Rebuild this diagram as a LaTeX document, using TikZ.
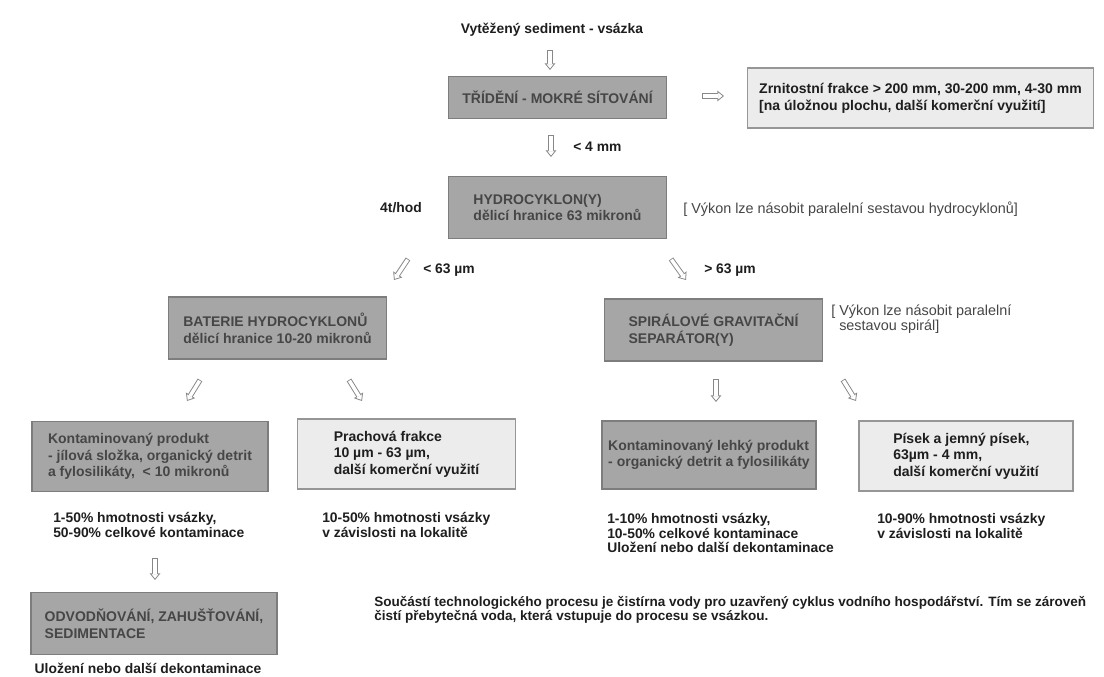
\documentclass[tikz,border=0pt]{standalone}
\usepackage{fontspec}
\setmainfont{Liberation Sans}
\usetikzlibrary{arrows.meta}
\definecolor{boxgray}{RGB}{166,166,166}
\definecolor{boxedge}{RGB}{125,125,125}
\definecolor{palegray}{RGB}{236,236,236}
\definecolor{paleedge}{RGB}{150,150,150}
\definecolor{boxtext}{RGB}{70,70,70}
\definecolor{labeltext}{RGB}{30,30,30}
\definecolor{arrowgray}{RGB}{135,135,135}
\newcommand{\boxfont}{\bfseries\fontsize{10.5}{12.5}\selectfont}
\newcommand{\labelfont}{\bfseries\fontsize{10.4}{11}\selectfont}

\begin{document}
\begin{tikzpicture}[x=0.75pt,y=-0.75pt,
  darkbox/.style={rectangle,draw=boxedge,fill=boxgray,line width=0.8pt,
                  text=boxtext,align=left,font=\boxfont,inner sep=0pt},
  palebox/.style={rectangle,draw=paleedge,fill=palegray,line width=0.8pt,
                  text=labeltext,align=left,font=\boxfont,inner sep=0pt},
  label/.style={text=labeltext,align=left,font=\labelfont,inner sep=0pt},
  note/.style={text=boxtext,align=left,font=\fontsize{10.8}{11.5}\selectfont,inner sep=0pt},
  hollow/.style={draw=arrowgray,line width=4pt,
                 -{Triangle[length=5pt,width=8pt,line width=0.6pt,fill=white]},
                 postaction={draw=white,line width=2.6pt,-,shorten <=0.6pt,shorten >=4.3pt}}
]
\fill[white] (0,0) rectangle (1104,677);
\useasboundingbox (0,0) rectangle (1104,677);

% boxes
\node[darkbox,minimum width=164pt,minimum height=31pt] (sieve) at (557.5,97.5)
  {TŘÍDĚNÍ - MOKRÉ SÍTOVÁNÍ};
\node[palebox,minimum width=259pt,minimum height=45pt] (coarse) at (920.5,98)
  {Zrnitostní frakce > 200 mm, 30-200 mm, 4-30 mm\\{}[na úložnou plochu, další komerční využití]};
\node[darkbox,minimum width=164pt,minimum height=46pt] (hydro) at (557.5,207.5)
  {HYDROCYKLON(Y)\\dělicí hranice 63 mikronů};
\node[darkbox,minimum width=164pt,minimum height=46.5pt] (battery) at (277.5,328)
  {BATERIE HYDROCYKLONŮ\\dělicí hranice 10-20 mikronů};
\node[darkbox,minimum width=164pt,minimum height=46.5pt] (spiral) at (713.5,330)
  {SPIRÁLOVÉ GRAVITAČNÍ\\SEPARÁTOR(Y)};
\node[darkbox,minimum width=177pt,minimum height=52pt] (clay) at (150,456.5)
  {Kontaminovaný produkt\\- jílová složka, organický detrit\\a fylosilikáty,\ \ < 10 mikronů};
\node[palebox,minimum width=164pt,minimum height=52.5pt] (silt) at (406.5,454)
  {Prachová frakce\\10 µm - 63 µm,\\další komerční využití};
\node[darkbox,minimum width=160.5pt,minimum height=51pt] (light) at (709,455)
  {Kontaminovaný lehký produkt\\- organický detrit a fylosilikáty};
\node[palebox,minimum width=160.5pt,minimum height=52.5pt] (sand) at (966,456)
  {Písek a jemný písek,\\63µm - 4 mm,\\další komerční využití};
\node[darkbox,minimum width=184.5pt,minimum height=46pt] (dewater) at (154,623.5)
  {ODVODŇOVÁNÍ, ZAHUŠŤOVÁNÍ,\\SEDIMENTACE};

% texts outside the boxes
\node[label] (feed) at (552,30) {Vytěžený sediment - vsázka};
\node[label,anchor=west] (lt4) at (573,147) {< 4 mm};
\node[label] (rate) at (401,208) {4t/hod};
\node[note,anchor=west] (hydronote) at (683,209)
  {[ Výkon lze násobit paralelní sestavou hydrocyklonů]};
\node[label,anchor=west] (lt63) at (423,270) {< 63 µm};
\node[label,anchor=west] (gt63) at (704,270) {> 63 µm};
\node[note,anchor=west] (spiralnote) at (831,319)
  {[ Výkon lze násobit paralelní\\\hspace*{6pt}sestavou spirál]};
\node[label,anchor=west] (claystat) at (53,525)
  {1-50\% hmotnosti vsázky,\\50-90\% celkové kontaminace};
\node[label,anchor=west] (siltstat) at (322,525)
  {10-50\% hmotnosti vsázky\\v závislosti na lokalitě};
\node[label,anchor=west] (lightstat) at (607,533)
  {1-10\% hmotnosti vsázky,\\10-50\% celkové kontaminace\\Uložení nebo další dekontaminace};
\node[label,anchor=west] (sandstat) at (877,526)
  {10-90\% hmotnosti vsázky\\v závislosti na lokalitě};
\node[label] (dewaternote) at (148,668) {Uložení nebo další dekontaminace};
\node[label,anchor=west,font=\bfseries\fontsize{10.15}{11}\selectfont] (footer) at (374,610)
  {Součástí technologického procesu je čistírna vody pro uzavřený cyklus vodního hospodářství. Tím se zároveň\\čistí přebytečná voda, která vstupuje do procesu se vsázkou.};

% arrow ends
\coordinate (feedA) at (550,50);    \coordinate (feedB) at (550,70);
\coordinate (coarseA) at (702,96);  \coordinate (coarseB) at (724,96);
\coordinate (hydroA) at (551,135);  \coordinate (hydroB) at (551,157);
\coordinate (batA) at (408,259);    \coordinate (batB) at (394,280);
\coordinate (spiA) at (671,259);    \coordinate (spiB) at (686,280);
\coordinate (clayA) at (200,380);   \coordinate (clayB) at (187,401);
\coordinate (siltA) at (349,380);   \coordinate (siltB) at (362,401);
\coordinate (lightA) at (716,379);  \coordinate (lightB) at (716,402);
\coordinate (sandA) at (843,380);   \coordinate (sandB) at (856,401);
\coordinate (dewA) at (155,558);    \coordinate (dewB) at (155,580);

\draw[hollow] (feedA) -- (feedB);
\draw[hollow] (coarseA) -- (coarseB);
\draw[hollow] (hydroA) -- (hydroB);
\draw[hollow] (batA) -- (batB);
\draw[hollow] (spiA) -- (spiB);
\draw[hollow] (clayA) -- (clayB);
\draw[hollow] (siltA) -- (siltB);
\draw[hollow] (lightA) -- (lightB);
\draw[hollow] (sandA) -- (sandB);
\draw[hollow] (dewA) -- (dewB);
\end{tikzpicture}
\end{document}
